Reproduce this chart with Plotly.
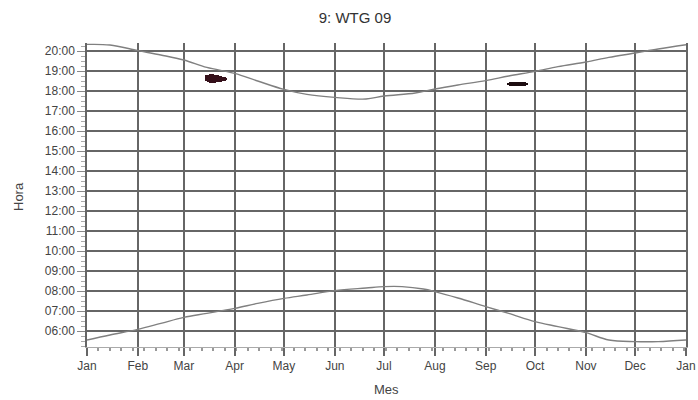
import plotly.graph_objects as go

# Sunset / sunrise curves (hours of day)
sunset_dates = ["2023-01-01", "2023-01-15", "2023-02-01", "2023-02-15", "2023-03-01", "2023-03-15",
                "2023-04-01", "2023-04-15", "2023-05-01", "2023-05-15", "2023-06-01", "2023-06-20",
                "2023-07-01", "2023-07-20", "2023-08-01", "2023-08-15", "2023-09-01", "2023-09-15",
                "2023-10-01", "2023-10-15", "2023-11-01", "2023-11-15", "2023-12-01", "2023-12-15",
                "2024-01-01"]
sunset_hours = [20.33, 20.30, 20.02, 19.80, 19.55, 19.18,
                18.88, 18.50, 18.08, 17.83, 17.68, 17.60,
                17.75, 17.90, 18.10, 18.30, 18.52, 18.75,
                18.98, 19.22, 19.45, 19.68, 19.90, 20.10,
                20.31]

sunrise_dates = ["2023-01-01", "2023-01-15", "2023-02-01", "2023-02-15", "2023-03-01", "2023-03-15",
                 "2023-04-01", "2023-04-15", "2023-05-01", "2023-05-15", "2023-06-01", "2023-06-20",
                 "2023-07-01", "2023-07-12", "2023-07-25", "2023-08-01", "2023-08-15", "2023-09-01",
                 "2023-09-15", "2023-10-01", "2023-10-15", "2023-11-01", "2023-11-15", "2023-12-01",
                 "2023-12-15", "2024-01-01"]
sunrise_hours = [5.55, 5.80, 6.08, 6.38, 6.68, 6.88,
                 7.13, 7.38, 7.63, 7.80, 8.02, 8.15,
                 8.22, 8.22, 8.10, 7.97, 7.65, 7.22,
                 6.88, 6.47, 6.22, 5.92, 5.55, 5.47,
                 5.47, 5.55]

# Shadow flicker periods (start / end hour per day)
flicker_mar_dates = ["2023-03-15", "2023-03-16", "2023-03-17", "2023-03-18", "2023-03-19", "2023-03-20",
                     "2023-03-21", "2023-03-22", "2023-03-23", "2023-03-24", "2023-03-25", "2023-03-26",
                     "2023-03-27"]
flicker_mar_start = [18.50, 18.45, 18.42, 18.41, 18.41, 18.42, 18.43, 18.44, 18.45, 18.46, 18.48, 18.50, 18.55]
flicker_mar_end = [18.78, 18.82, 18.84, 18.85, 18.84, 18.82, 18.80, 18.78, 18.76, 18.74, 18.72, 18.70, 18.66]

flicker_sep_dates = ["2023-09-15", "2023-09-16", "2023-09-17", "2023-09-18", "2023-09-19", "2023-09-20",
                     "2023-09-21", "2023-09-22", "2023-09-23", "2023-09-24", "2023-09-25", "2023-09-26"]
flicker_sep_start = [18.30, 18.27, 18.25, 18.25, 18.25, 18.25, 18.25, 18.25, 18.25, 18.25, 18.27, 18.31]
flicker_sep_end = [18.42, 18.46, 18.47, 18.47, 18.47, 18.47, 18.47, 18.47, 18.47, 18.47, 18.45, 18.41]

hour_ticks = list(range(6, 21))
hour_labels = [f"{h:02d}:00" for h in hour_ticks]

title_text = "9: WTG 09"
x_title = "Mes"
y_title = "Hora"

W, H = 698, 400
ML, MR, MT, MB = 87, 12, 43, 53

fig = go.Figure()

for d, h in ((sunset_dates, sunset_hours), (sunrise_dates, sunrise_hours)):
    fig.add_trace(go.Scatter(x=d, y=h, mode="lines", line=dict(color="#808080", width=1.4, shape="spline"),
                             hoverinfo="skip", showlegend=False))

for d, s, e, c in ((flicker_mar_dates, flicker_mar_start, flicker_mar_end, "#35101a"),
                   (flicker_sep_dates, flicker_sep_start, flicker_sep_end, "#1c0d10")):
    fig.add_trace(go.Bar(x=d, base=s, y=[b - a for a, b in zip(s, e)], width=86400000 * 1.05,
                         marker=dict(color=c, line=dict(width=0)), showlegend=False))

plot_w = W - ML - MR
plot_h = H - MT - MB

fig.update_layout(
    width=W, height=H,
    margin=dict(l=ML, r=MR, t=MT, b=MB, autoexpand=False),
    paper_bgcolor="white", plot_bgcolor="white",
    font=dict(family="Liberation Sans, Arial, sans-serif", size=12, color="#444444"),
    title=dict(text=title_text, x=(355) / W, xanchor="center", y=1 - 18 / H, yanchor="middle",
               font=dict(size=15, color="#333333")),
    bargap=0,
    xaxis=dict(type="date", range=["2023-01-01", "2024-01-01"], dtick="M1", tick0="2023-01-01",
               tickformat="%b", showgrid=True, gridcolor="#666666", gridwidth=1.5,
               ticks="outside", ticklen=8, tickcolor="#666666", tickwidth=1.5,
               showline=True, linecolor="#aaaaaa", linewidth=1,
               minor=dict(dtick=7 * 86400000, tick0="2023-01-01", ticks="outside", ticklen=3,
                          tickcolor="#999999", showgrid=False),
               tickfont=dict(size=12, color="#444444"), zeroline=False),
    yaxis=dict(range=[5.2, 20.4], tickvals=hour_ticks, ticktext=hour_labels,
               showgrid=True, gridcolor="#666666", gridwidth=1.5,
               ticks="outside", ticklen=8, tickcolor="#888888",
               showline=True, linecolor="#666666", linewidth=1.5, mirror=True,
               minor=dict(dtick=0.25, ticks="outside", ticklen=4, tickcolor="#aaaaaa", showgrid=False),
               tickfont=dict(size=12, color="#444444"), zeroline=False),
    annotations=[
        dict(text=y_title, x=(18 - ML) / plot_w, y=(H - MB - 197) / plot_h, xref="paper", yref="paper",
             xanchor="center", yanchor="middle",
             showarrow=False, textangle=-90, font=dict(size=13, color="#444444")),
        dict(text=x_title, x=(386 - ML) / plot_w, y=(H - MB - 389) / plot_h, xref="paper", yref="paper",
             xanchor="center", yanchor="middle",
             showarrow=False, font=dict(size=13, color="#444444")),
    ],
)

fig.write_html("out.html", config={"displayModeBar": False},
               post_script="document.body.style.margin='0';")
